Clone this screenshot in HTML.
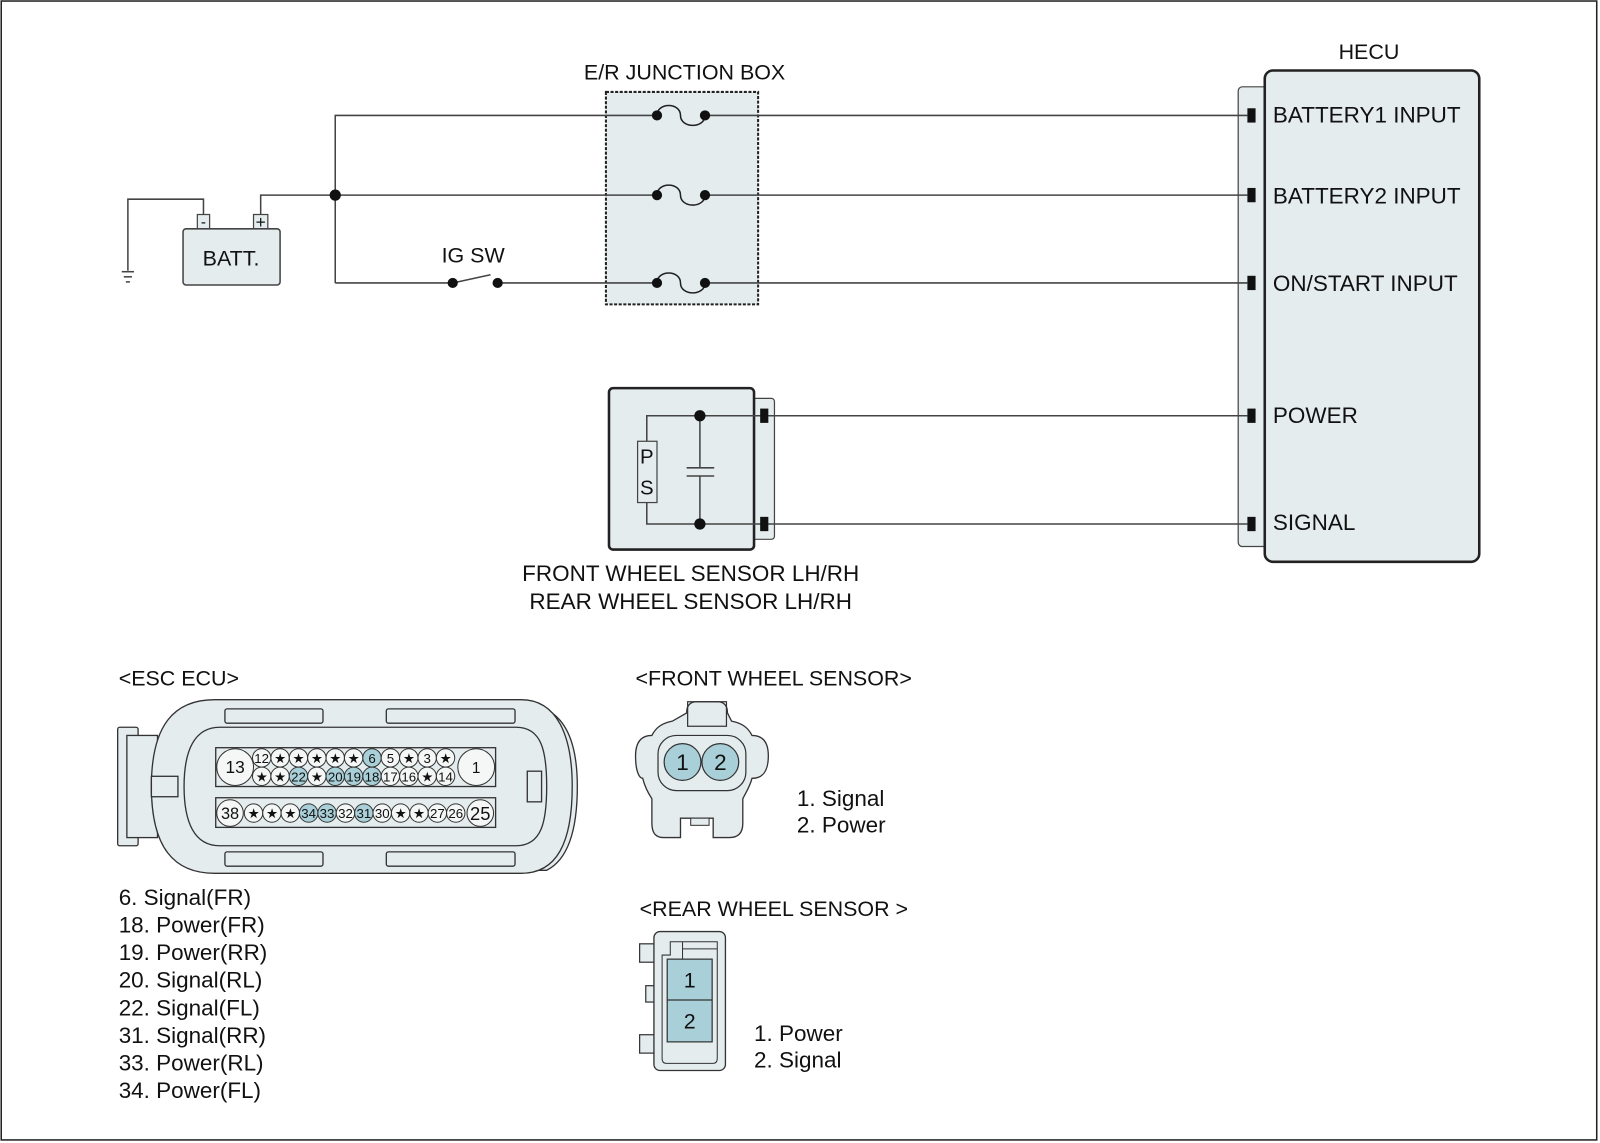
<!DOCTYPE html>
<html><head><meta charset="utf-8"><style>
html,body{margin:0;padding:0;background:#fff;}
svg{display:block;}
text{font-family:"Liberation Sans",sans-serif;fill:#111;}
</style></head><body>
<svg width="1600" height="1143" viewBox="0 0 1566 1119" xmlns="http://www.w3.org/2000/svg">
<rect x="1" y="1" width="1562" height="1115" fill="#fff" stroke="#222" stroke-width="1.5"/>

<!-- HECU -->
<text x="1340" y="58" font-size="21" text-anchor="middle">HECU</text>
<rect x="1212" y="85" width="34" height="450" rx="4" fill="#e4ecee" stroke="#444" stroke-width="1.2"/>
<rect x="1238" y="69" width="210" height="481" rx="8" fill="#e4ecee" stroke="#222" stroke-width="2.5"/>
<g font-size="22">
<text x="1246" y="120">BATTERY1 INPUT</text>
<text x="1246" y="199">BATTERY2 INPUT</text>
<text x="1246" y="285">ON/START INPUT</text>
<text x="1246" y="414">POWER</text>
<text x="1246" y="519">SIGNAL</text>
</g>
<g fill="#111">
<rect x="1221" y="106" width="8" height="14"/>
<rect x="1221" y="184" width="8" height="14"/>
<rect x="1221" y="270" width="8" height="14"/>
<rect x="1221" y="400" width="8" height="14"/>
<rect x="1221" y="506" width="8" height="14"/>
</g>

<!-- Junction box -->
<text x="670" y="78" font-size="21" text-anchor="middle">E/R JUNCTION BOX</text>
<rect x="593" y="90" width="149" height="208" fill="#e4ecee" stroke="#222" stroke-width="2" stroke-dasharray="3,1.5"/>

<g stroke="#444" stroke-width="1.5" fill="none">
<polyline points="328,277 328,113 643,113"/>
<line x1="690" y1="113" x2="1221" y2="113"/>
<polyline points="255,210 255,191 643,191"/>
<line x1="690" y1="191" x2="1221" y2="191"/>
<line x1="328" y1="277" x2="443" y2="277"/>
<line x1="443" y1="277" x2="480" y2="269"/>
<line x1="487" y1="277" x2="643" y2="277"/>
<line x1="690" y1="277" x2="1221" y2="277"/>
<polyline points="199,210 199,195 125,195 125,265"/>
<line x1="119" y1="266" x2="131" y2="266"/>
<line x1="121" y1="271" x2="129" y2="271"/>
<line x1="123" y1="276" x2="127" y2="276"/>
<path d="M643,113 C643,100 666,100 666,113 C666,126 690,126 690,113" stroke="#222"/>
<path d="M643,191 C643,178 666,178 666,191 C666,204 690,204 690,191" stroke="#222"/>
<path d="M643,277 C643,264 666,264 666,277 C666,290 690,290 690,277" stroke="#222"/>
</g>
<g fill="#111">
<circle cx="643" cy="113" r="5"/><circle cx="690" cy="113" r="5"/>
<circle cx="643" cy="191" r="5"/><circle cx="690" cy="191" r="5"/>
<circle cx="643" cy="277" r="5"/><circle cx="690" cy="277" r="5"/>
<circle cx="328" cy="191" r="5.5"/>
<circle cx="443" cy="277" r="5"/><circle cx="487" cy="277" r="5"/>
</g>
<text x="463" y="257" font-size="21" text-anchor="middle">IG SW</text>

<!-- Battery -->
<rect x="193" y="210" width="12" height="14" fill="#e4ecee" stroke="#444" stroke-width="1.2"/>
<rect x="248" y="210" width="14" height="14" fill="#e4ecee" stroke="#444" stroke-width="1.2"/>
<text x="199" y="222" font-size="15" text-anchor="middle">-</text>
<text x="255" y="223" font-size="17" text-anchor="middle">+</text>
<rect x="179" y="224" width="95" height="55" rx="3" fill="#e4ecee" stroke="#444" stroke-width="1.5"/>
<text x="226" y="260" font-size="21" text-anchor="middle">BATT.</text>

<!-- Wheel sensor box -->
<rect x="736" y="390" width="22" height="138" rx="3" fill="#e4ecee" stroke="#444" stroke-width="1.2"/>
<rect x="596" y="380" width="142" height="158" rx="4" fill="#e4ecee" stroke="#222" stroke-width="2.5"/>
<g stroke="#444" stroke-width="1.5" fill="none">
<polyline points="752,407 633,407 633,432"/>
<polyline points="633,492 633,513 752,513"/>
<line x1="685" y1="407" x2="685" y2="458"/>
<line x1="685" y1="466" x2="685" y2="513"/>
<line x1="672" y1="458" x2="699" y2="458"/>
<line x1="672" y1="466" x2="699" y2="466"/>
<line x1="752" y1="407" x2="1221" y2="407"/>
<line x1="752" y1="513" x2="1221" y2="513"/>
</g>
<rect x="624" y="432" width="19" height="60" fill="#e4ecee" stroke="#444" stroke-width="1.2"/>
<text x="633" y="454" font-size="20" text-anchor="middle">P</text>
<text x="633" y="484" font-size="20" text-anchor="middle">S</text>
<circle cx="685" cy="407" r="5.5" fill="#111"/><circle cx="685" cy="513" r="5.5" fill="#111"/>
<rect x="744" y="400" width="8" height="14" fill="#111"/>
<rect x="744" y="506" width="8" height="14" fill="#111"/>
<text x="676" y="569" font-size="22" text-anchor="middle">FRONT WHEEL SENSOR LH/RH</text>
<text x="676" y="596" font-size="22" text-anchor="middle">REAR WHEEL SENSOR LH/RH</text>

<!-- ESC ECU connector -->
<text x="116" y="671" font-size="21">&lt;ESC ECU&gt;</text>
<g stroke="#333" stroke-width="1.3" fill="#e4ecee">
<rect x="115" y="712" width="20" height="116" rx="2"/>
<rect x="124" y="720" width="30" height="100"/>
<path d="M520,695 L535,695 C555,705 565,730 565,770 C565,815 555,842 535,852 L520,852 Z"/>
<path d="M210,685 L510,685 C545,685 560,720 560,770 C560,825 545,855 510,855 L210,855 C170,855 148,830 148,770 C148,710 170,685 210,685 Z"/>
<path d="M215,712 L505,712 C530,712 535,735 535,770 C535,805 530,828 505,828 L215,828 C190,828 180,805 180,770 C180,735 190,712 215,712 Z" fill="#e4ecee"/>
<rect x="220" y="694" width="96" height="14" rx="2"/>
<rect x="378" y="694" width="126" height="14" rx="2"/>
<rect x="220" y="834" width="96" height="14" rx="2"/>
<rect x="378" y="834" width="126" height="14" rx="2"/>
<rect x="148" y="760" width="26" height="20"/>
<rect x="516" y="755" width="14" height="30"/>
<rect x="211" y="732" width="274" height="38" fill="#e4ecee"/>
<rect x="211" y="781" width="274" height="29" fill="#e4ecee"/>
</g>
<g stroke="#333" stroke-width="1" fill="#f5f7f7">
<circle cx="230" cy="751" r="18"/><circle cx="466" cy="751" r="18"/>
<circle cx="225" cy="796" r="13"/><circle cx="470" cy="796" r="13"/>
</g>
<g stroke="#333" stroke-width="1" fill="#f5f7f7">
<circle cx="256" cy="742" r="9"/><circle cx="274" cy="742" r="9"/><circle cx="292" cy="742" r="9"/><circle cx="310" cy="742" r="9"/><circle cx="328" cy="742" r="9"/><circle cx="346" cy="742" r="9"/><circle cx="364" cy="742" r="9" fill="#a9d0d8"/><circle cx="382" cy="742" r="9"/><circle cx="400" cy="742" r="9"/><circle cx="418" cy="742" r="9"/><circle cx="436" cy="742" r="9"/>
<circle cx="256" cy="760" r="9"/><circle cx="274" cy="760" r="9"/><circle cx="292" cy="760" r="9" fill="#a9d0d8"/><circle cx="310" cy="760" r="9"/><circle cx="328" cy="760" r="9" fill="#a9d0d8"/><circle cx="346" cy="760" r="9" fill="#a9d0d8"/><circle cx="364" cy="760" r="9" fill="#a9d0d8"/><circle cx="382" cy="760" r="9"/><circle cx="400" cy="760" r="9"/><circle cx="418" cy="760" r="9"/><circle cx="436" cy="760" r="9"/>
<circle cx="248" cy="796" r="9"/><circle cx="266" cy="796" r="9"/><circle cx="284" cy="796" r="9"/><circle cx="302" cy="796" r="9" fill="#a9d0d8"/><circle cx="320" cy="796" r="9" fill="#a9d0d8"/><circle cx="338" cy="796" r="9"/><circle cx="356" cy="796" r="9" fill="#a9d0d8"/><circle cx="374" cy="796" r="9"/><circle cx="392" cy="796" r="9"/><circle cx="410" cy="796" r="9"/><circle cx="428" cy="796" r="9"/><circle cx="446" cy="796" r="9"/>
</g>
<g font-size="13" text-anchor="middle">
<text x="230" y="757" font-size="17">13</text><text x="466" y="757" font-size="15">1</text>
<text x="225" y="802" font-size="16">38</text><text x="470" y="803" font-size="18">25</text>
<text x="256" y="747">12</text><text x="274" y="747">★</text><text x="292" y="747">★</text><text x="310" y="747">★</text><text x="328" y="747">★</text><text x="346" y="747">★</text><text x="364" y="747">6</text><text x="382" y="747">5</text><text x="400" y="747">★</text><text x="418" y="747">3</text><text x="436" y="747">★</text>
<text x="256" y="765">★</text><text x="274" y="765">★</text><text x="292" y="765">22</text><text x="310" y="765">★</text><text x="328" y="765">20</text><text x="346" y="765">19</text><text x="364" y="765">18</text><text x="382" y="765">17</text><text x="400" y="765">16</text><text x="418" y="765">★</text><text x="436" y="765">14</text>
<text x="248" y="801">★</text><text x="266" y="801">★</text><text x="284" y="801">★</text><text x="302" y="801">34</text><text x="320" y="801">33</text><text x="338" y="801">32</text><text x="356" y="801">31</text><text x="374" y="801">30</text><text x="392" y="801">★</text><text x="410" y="801">★</text><text x="428" y="801">27</text><text x="446" y="801">26</text>
</g>
<g font-size="22">
<text x="116" y="886">6. Signal(FR)</text>
<text x="116" y="913">18. Power(FR)</text>
<text x="116" y="940">19. Power(RR)</text>
<text x="116" y="967">20. Signal(RL)</text>
<text x="116" y="994">22. Signal(FL)</text>
<text x="116" y="1021">31. Signal(RR)</text>
<text x="116" y="1048">33. Power(RL)</text>
<text x="116" y="1075">34. Power(FL)</text>
</g>

<!-- Front wheel sensor connector -->
<text x="622" y="671" font-size="21">&lt;FRONT WHEEL SENSOR&gt;</text>
<path d="M672,698 C672,690 676,687 682,687 L702,687 C708,687 712,690 712,698 L716,706 C726,708 732,712 736,720 C746,720 752,726 752,740 C752,756 746,762 736,762 C734,770 730,776 727,782 L727,806 C727,816 722,820 714,820 L698,820 L698,801 L666,801 L666,820 L650,820 C642,820 638,816 638,806 L638,782 C634,776 631,770 629,762 C626,762 622,756 622,740 C622,726 628,720 638,720 C642,712 648,708 658,706 Z" fill="#e4ecee" stroke="#333" stroke-width="1.3"/>
<rect x="673" y="687" width="38" height="24" fill="none" stroke="#333" stroke-width="1.2"/>
<rect x="644" y="720" width="86" height="54" rx="18" fill="#e4ecee" stroke="#333" stroke-width="1.2"/>
<rect x="676" y="801" width="18" height="7" fill="#e4ecee" stroke="#333" stroke-width="1"/>
<circle cx="668" cy="746" r="18" fill="#a9d0d8" stroke="#333" stroke-width="1.2"/>
<circle cx="705" cy="746" r="18" fill="#a9d0d8" stroke="#333" stroke-width="1.2"/>
<text x="668" y="754" font-size="22" text-anchor="middle">1</text>
<text x="705" y="754" font-size="22" text-anchor="middle">2</text>
<text x="780" y="789" font-size="22">1. Signal</text>
<text x="780" y="815" font-size="22">2. Power</text>

<!-- Rear wheel sensor connector -->
<text x="626" y="897" font-size="21">&lt;REAR WHEEL SENSOR &gt;</text>
<rect x="626" y="924" width="18" height="18" fill="#e4ecee" stroke="#333" stroke-width="1.2"/>
<rect x="632" y="965" width="12" height="16" fill="#e4ecee" stroke="#333" stroke-width="1.2"/>
<rect x="626" y="1013" width="18" height="18" fill="#e4ecee" stroke="#333" stroke-width="1.2"/>
<rect x="640" y="912" width="70" height="136" rx="6" fill="#e4ecee" stroke="#333" stroke-width="1.3"/>
<path d="M648,1036 L648,935 L656,935 L656,922 L702,922 L702,1036 C702,1040 700,1041 698,1041 L652,1041 C650,1041 648,1040 648,1036 Z" fill="#e4ecee" stroke="#333" stroke-width="1"/>
<line x1="668" y1="922" x2="668" y2="939" stroke="#333" stroke-width="1"/>
<line x1="668" y1="929" x2="702" y2="929" stroke="#333" stroke-width="1"/>
<rect x="653" y="939" width="44" height="81" fill="#a9d0d8" stroke="#333" stroke-width="1.2"/>
<line x1="653" y1="979" x2="697" y2="979" stroke="#333" stroke-width="1.2"/>
<text x="675" y="967" font-size="21" text-anchor="middle">1</text>
<text x="675" y="1007" font-size="21" text-anchor="middle">2</text>
<text x="738" y="1019" font-size="22">1. Power</text>
<text x="738" y="1045" font-size="22">2. Signal</text>
</svg>
</body></html>
